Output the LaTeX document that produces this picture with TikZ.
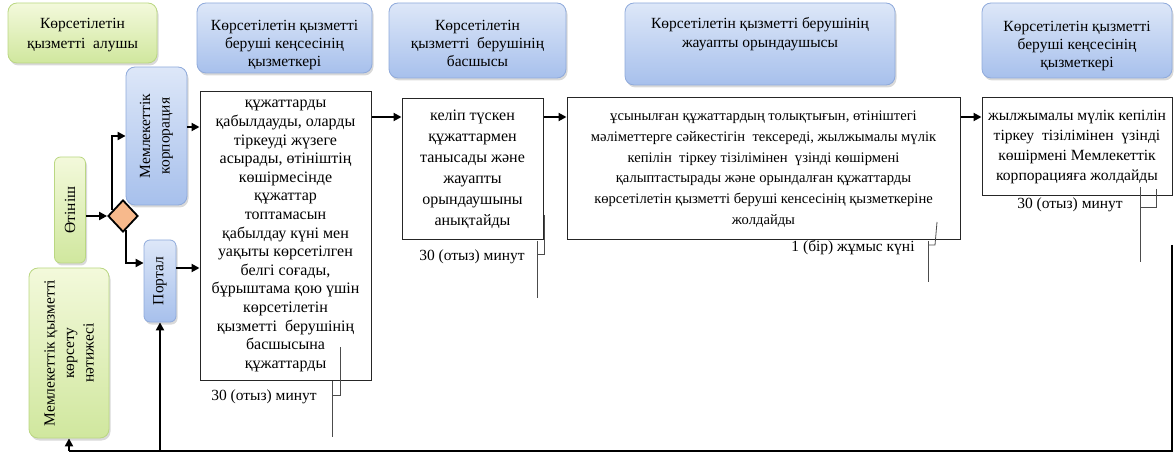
\documentclass[tikz,border=0pt]{standalone}
\usepackage{fontspec}
\setmainfont{Liberation Serif}
\usetikzlibrary{arrows.meta,shapes.geometric,shadows,calc}
\definecolor{bluetop}{HTML}{DDE7F8}
\definecolor{bluebot}{HTML}{A7C0EC}
\definecolor{blueedge}{HTML}{8FAADB}
\definecolor{greentop}{HTML}{F3F9DB}
\definecolor{greenbot}{HTML}{D0E79E}
\definecolor{greenedge}{HTML}{BAD782}
\definecolor{diafill}{HTML}{F7B98C}
\begin{document}
\begin{tikzpicture}[x=1pt,y=-1pt,
  hdr/.style={rounded corners=9pt, line width=0.8pt, align=center, inner sep=0pt,
    font=\fontsize{15.5}{19.5}\selectfont, text=black,
    drop shadow={shadow xshift=1.5pt,shadow yshift=-2.5pt,opacity=0.3}},
  hblue/.style={hdr, draw=blueedge, top color=bluetop, bottom color=bluebot},
  hgreen/.style={hdr, draw=greenedge, top color=greentop, bottom color=greenbot},
  htext/.style={align=center, inner sep=0pt, font=\fontsize{15.5}{18.2}\selectfont, text=black},
  proc/.style={draw=black!85, line width=1pt, align=center, inner sep=0pt, fill=white,
    font=\fontsize{16}{18.6}\selectfont},
  tlabel/.style={font=\fontsize{15.5}{18}\selectfont, inner sep=0pt, text=black},
  arr/.style={line width=2.3pt, -{Triangle[length=8pt,width=8pt]}},
  feed/.style={line width=2.6pt},
  brk/.style={line width=0.8pt, draw=black!70},
  dia/.style={diamond, draw=black, line width=1.8pt, fill=diafill, minimum width=30pt,
    minimum height=32pt, inner sep=0pt}
]
\useasboundingbox (0,0) rectangle (1175,454);

% headers
\node[hgreen, minimum width=149pt, minimum height=60pt] (hA) at (82.5,33) {};
\node[htext, font=\fontsize{15.5}{20}\selectfont] (hAt) at (82.5,35.5) {Көрсетілетін\\қызметті\ \ алушы};
\node[hblue, minimum width=175pt, minimum height=70pt] (hB) at (284.5,38) {};
\node[htext] (hBt) at (284.5,45) {Көрсетілетін қызметті\\беруші кеңсесінің\\қызметкері};
\node[hblue, minimum width=177pt, minimum height=75pt] (hC) at (477.5,40.5) {};
\node[htext] (hCt) at (477.5,43.5) {Көрсетілетін\\қызметті\ \ берушінің\\басшысы};
\node[hblue, minimum width=270pt, minimum height=82pt] (hD) at (760,44) {};
\node[htext, font=\fontsize{15.5}{19}\selectfont] (hDt) at (760,34) {Көрсетілетін қызметті берушінің\\жауапты орындаушысы};
\node[hblue, minimum width=190pt, minimum height=75pt] (hE) at (1077,40.5) {};
\node[htext] (hEt) at (1077,46) {Көрсетілетін қызметті\\беруші кеңсесінің\\қызметкері};

% left column
\node[hblue, rotate=90, minimum width=138pt, minimum height=61pt] (corp) at (156.5,136)
  {Мемлекеттік\\корпорация};
\node[hgreen, rotate=90, minimum width=106pt, minimum height=31pt, rounded corners=6pt] (app) at (70,210)
  {Өтініш};
\node[hblue, rotate=90, minimum width=82pt, minimum height=32pt, rounded corners=6pt] (portal) at (160,281)
  {Портал};
\node[hgreen, rotate=90, minimum width=170pt, minimum height=80pt] (res) at (69,353)
  {Мемлекеттік қызметті\\көрсету\\нәтижесі};
\node[dia] (d) at (123,216) {};

% process boxes
\node[proc, minimum width=171pt, minimum height=288pt] (b1) at (285.5,236)
  {құжаттарды\\қабылдауды, оларды\\тіркеуді жүзеге\\асырады, өтініштің\\көшірмесінде\\құжаттар\\топтамасын\\қабылдау күні мен\\уақыты көрсетілген\\белгі соғады,\\бұрыштама қою үшін\\көрсетілетін\\қызметті\ \ берушінің\\басшысына\\құжаттарды};
\node[proc, minimum width=141pt, minimum height=141pt, font=\fontsize{16}{21}\selectfont] (b2) at (472.5,169.5)
  {келіп түскен\\құжаттармен\\танысады және\\жауапты\\орындаушыны\\анықтайды};
\node[proc, minimum width=393pt, minimum height=142pt, font=\fontsize{14.6}{20.8}\selectfont] (b3) at (763.5,169)
  {ұсынылған құжаттардың толықтығын, өтініштегі\\мәліметтерге сәйкестігін\ \ тексереді, жылжымалы мүлік\\кепілін\ \ тіркеу тізілімінен\ \ үзінді көшірмені\\қалыптастырады және орындалған құжаттарды\\көрсетілетін қызметті беруші кенсесінің қызметкеріне\\жолдайды};
\node[proc, minimum width=190pt, minimum height=98pt, font=\fontsize{15.6}{20}\selectfont] (b4) at (1077,147)
  {жылжымалы мүлік кепілін\\тіркеу\ \ тізілімінен\ \ үзінді\\көшірмені Мемлекеттік\\корпорацияға жолдайды};

% time labels
\node[tlabel] (t1) at (264,397) {30 (отыз) минут};
\node[tlabel] (t2) at (472,257) {30 (отыз) минут};
\node[tlabel] (t3) at (853,248) {1 (бір) жұмыс күні};
\node[tlabel] (t4) at (1070,205) {30 (отыз) минут};

% brackets
\draw[brk] (340,347) -- (340,395) -- (332,395);
\draw[brk] (332,381) -- (332,437);
\draw[brk] (544,215) -- (544,254) -- (537,254);
\draw[brk] (537,241) -- (537,298);
\draw[brk] (937,222) -- (935,245) -- (928,245);
\draw[brk] (928,241) -- (928,282);
\draw[brk] (1156,189) -- (1156,207) -- (1140,207);
\draw[brk] (1140,187) -- (1140,262);

% connectors
\coordinate (row) at (0,117);
\draw[arr] (app.south |- d.west) -- (d.west);
\draw[arr] ($(d.west)!0.33!(d.north)$) |- (corp.north);
\draw[arr] ($(d.south)!0.2!(d.east)$) |- ([yshift=18pt]portal.north);
\draw[arr] ([yshift=9pt]corp.south) -- ([yshift=9pt]corp.south -| b1.west);
\draw[arr] ([yshift=13pt]portal.south) -- ([yshift=13pt]portal.south -| b1.west);
\draw[arr] (b1.east |- row) -- (b2.west |- row);
\draw[arr] (b2.east |- row) -- (b3.west |- row);
\draw[arr] (b3.east |- row) -- (b4.west |- row);

% feedback loop
\coordinate (fb) at (1172,245);
\coordinate (fbb) at (1172,451);
\draw[feed] (fb) -- (fbb) -- (fbb -| res.west);
\draw[arr, line width=2.6pt] (fbb -| res.west) -- (res.west);
\draw[arr, line width=2.6pt] (fbb -| portal.west) -- (portal.west);
\end{tikzpicture}
\end{document}
